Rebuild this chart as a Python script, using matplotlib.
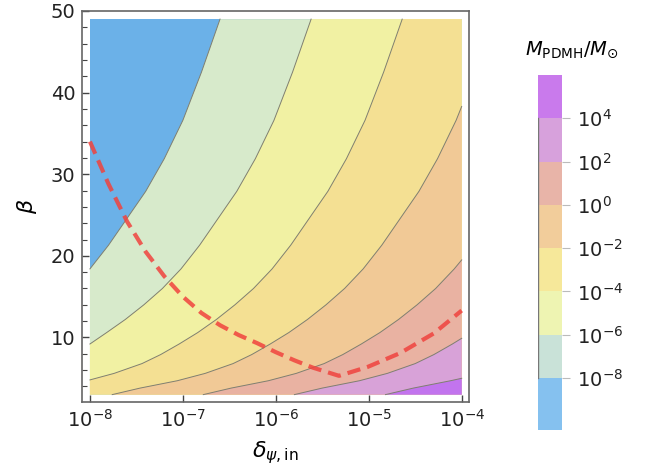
import numpy as np
import matplotlib.pyplot as plt

# data box of the contour plot (log10 delta, beta)
x_lo, x_hi = -8.0, -4.0
b_lo, b_hi = 3.0, 49.0

# contour lines: log10(delta) and beta
# levels of log10(M_PDMH/M_sun): -8, -6, -4, -2, 0, 2, 4
c1_x = [-8.0, -7.8, -7.6, -7.4, -7.2, -7.0, -6.8, -6.6]
c1_b = [18.4, 21.3, 24.6, 27.9, 31.9, 36.6, 42.5, 49.0]
c2_x = [-8.0, -7.82, -7.62, -7.42, -7.22, -7.02, -6.82, -6.62, -6.42, -6.22, -6.02, -5.82, -5.62]
c2_b = [9.2, 10.6, 12.2, 14.0, 16.0, 18.4, 21.3, 24.6, 27.9, 31.9, 36.6, 42.5, 49.0]
c3_x = [-8.0, -7.74, -7.44, -7.24, -7.04, -6.84, -6.64, -6.44, -6.24, -6.04, -5.84, -5.64,
        -5.44, -5.24, -5.04, -4.84, -4.64]
c3_b = [4.8, 5.6, 6.8, 7.9, 9.2, 10.6, 12.2, 14.0, 16.0, 18.4, 21.3, 24.6,
        27.9, 31.9, 36.6, 42.5, 49.0]
c4_x = [-7.76, -7.46, -7.06, -6.76, -6.46, -6.26, -6.06, -5.86, -5.66, -5.46, -5.26, -5.06,
        -4.86, -4.66, -4.46, -4.26, -4.06, -4.0]
c4_b = [3.0, 3.8, 4.7, 5.6, 6.8, 7.9, 9.2, 10.6, 12.2, 14.0, 16.0, 18.4,
        21.3, 24.6, 27.9, 31.9, 36.6, 38.3]
c5_x = [-6.78, -6.48, -6.08, -5.78, -5.48, -5.28, -5.08, -4.88, -4.68, -4.48, -4.28, -4.08, -4.0]
c5_b = [3.0, 3.8, 4.7, 5.6, 6.8, 7.9, 9.2, 10.6, 12.2, 14.0, 16.0, 18.4, 19.5]
c6_x = [-5.8, -5.5, -5.1, -4.8, -4.5, -4.3, -4.1, -4.0]
c6_b = [3.0, 3.8, 4.7, 5.6, 6.8, 7.9, 9.2, 9.9]
c7_x = [-4.82, -4.52, -4.12, -4.0]
c7_b = [3.0, 3.8, 4.7, 5.0]
curves = [(c1_x, c1_b), (c2_x, c2_b), (c3_x, c3_b), (c4_x, c4_b),
          (c5_x, c5_b), (c6_x, c6_b), (c7_x, c7_b)]

# red dashed curve
red_x = [-8.0, -7.8, -7.6, -7.4, -7.2, -7.0, -6.8, -6.6, -6.4, -6.2, -6.0, -5.8, -5.6, -5.32,
         -5.01, -4.66, -4.30, -4.0]
red_b = [34.0, 28.8, 24.2, 20.5, 17.5, 15.0, 13.0, 11.5, 10.3, 9.3, 8.2, 7.2, 6.3, 5.3,
         6.4, 8.1, 10.5, 13.3]

# band colours, lowest mass first
band_colors = ['#6BB1E8', '#D7EACB', '#F1F1A3', '#F4E093', '#F1C996', '#E9B2A2', '#D8A2D8', '#C274EE']
cbar_colors = ['#85C1EF', '#C9E2D8', '#EEF4B2', '#F6E89A', '#F2CD9B', '#E8B4A8', '#D7A1DC', '#C97AEC']
cbar_ticks = [-8, -6, -4, -2, 0, 2, 4]

plt.rcParams['font.family'] = ['DejaVu Sans']
plt.rcParams['mathtext.fontset'] = 'dejavusans'

fig = plt.figure(figsize=(6.45, 4.74), dpi=100)
ax = fig.add_axes([0.1276, 0.1513, 0.6, 0.8256])


def region(xs, bs):
    # area to the lower right of a contour line, inside the data box
    px = list(xs)
    py = list(bs)
    if py[-1] >= b_hi - 0.05:
        px.append(x_hi)
        py.append(b_hi)
    px.append(x_hi)
    py.append(b_lo)
    if px[0] <= x_lo + 0.01:
        px.append(x_lo)
        py.append(b_lo)
    return 10.0 ** np.array(px), py


ax.fill(10.0 ** np.array([x_lo, x_hi, x_hi, x_lo]), [b_lo, b_lo, b_hi, b_hi],
        color=band_colors[0], lw=0, zorder=1)
for i, (cx, cb) in enumerate(curves):
    px, py = region(cx, cb)
    ax.fill(px, py, color=band_colors[i + 1], lw=0, zorder=1)
    ax.plot(10.0 ** np.array(cx), cb, color='#7F7F70', lw=0.7, zorder=2)

ax.plot(10.0 ** np.array(red_x), red_b, color='#F0433E', alpha=0.85, lw=3.0,
        ls=(0, (3.2, 1.7)), zorder=3)

ax.set_xscale('log')
ax.set_xlim(10 ** -8.082, 10 ** -3.918)
ax.set_ylim(2.06, 50.0)
ax.set_xticks([1e-8, 1e-7, 1e-6, 1e-5, 1e-4])
ax.set_xticklabels(['$10^{-8}$', '$10^{-7}$', '$10^{-6}$', '$10^{-5}$', '$10^{-4}$'])
ax.xaxis.set_minor_locator(plt.NullLocator())
ax.set_yticks([10, 20, 30, 40, 50])
ax.set_yticks(np.arange(4, 50, 2), minor=True)
ax.tick_params(axis='both', which='both', direction='in', top=False, right=False,
               color='#444444', labelsize=14, labelcolor='#222222')
ax.tick_params(axis='both', which='major', length=5, width=1.0, pad=5)
ax.tick_params(axis='y', which='minor', length=3.5, width=0.8)
for s in ax.spines.values():
    s.set_color('#666666')
    s.set_linewidth(1.2)

ax.set_xlabel(r'$\delta_{\psi,\mathrm{in}}$', fontsize=16, labelpad=6)
ax.set_ylabel(r'$\beta$', fontsize=16, labelpad=8)

# colour bar drawn by hand
cax = fig.add_axes([0.834, 0.0928, 0.0372, 0.749])
edges = [-10.4] + cbar_ticks + [6.0]
for i in range(len(cbar_colors)):
    cax.bar(0, edges[i + 1] - edges[i], bottom=edges[i], width=1.0,
            color=cbar_colors[i], lw=0)
cax.plot([-0.5, -0.5], [cbar_ticks[0], cbar_ticks[-1]], color='#777777', lw=1.0)
cax.set_xlim(-0.5, 0.5)
cax.set_ylim(-10.4, 6.0)
cax.set_xticks([])
cax.yaxis.tick_right()
cax.set_yticks(cbar_ticks)
cax.set_yticklabels(['$10^{%d}$' % t for t in cbar_ticks])
cax.tick_params(axis='y', direction='out', length=6, width=0.8, color='#BBBBBB',
                labelsize=14, labelcolor='#222222', pad=5)
for s in cax.spines.values():
    s.set_visible(False)
fig.text(0.887, 0.895, r'$M_{\rm PDMH}/M_{\odot}$', fontsize=14, ha='center', va='center')

fig.savefig('out.png', dpi=100)
